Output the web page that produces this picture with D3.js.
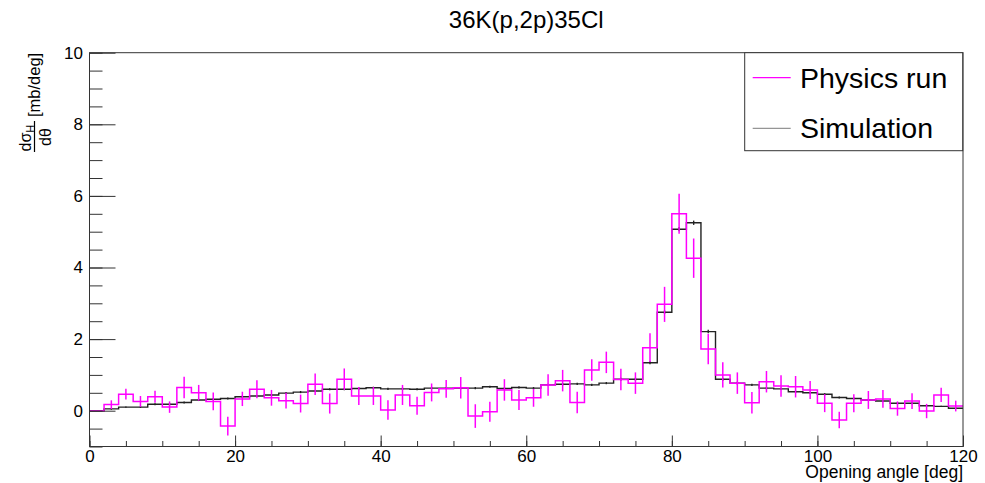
<!DOCTYPE html>
<html>
<head>
<meta charset="utf-8">
<script type="text/javascript" src="https://d3js.org/d3.v7.min.js"></script>
<title>36K(p,2p)35Cl</title>
<style>
body { margin:0; background:#fff; }
svg text { font-family: "Liberation Sans", Arial, Helvetica, sans-serif; fill:#000; }
</style>
</head>
<body>
<div id="chart"></div>
<script type="text/javascript">
(function(){

// bins of 2 deg from 0 to 120
var binLow = d3.range(0, 120, 2);
var binWidth = 2;

var physics = [
  0.00, 0.17, 0.46, 0.26, 0.39, 0.10, 0.65, 0.50, 0.26,-0.43,
  0.33, 0.60, 0.36, 0.28, 0.20, 0.74, 0.20, 0.88, 0.41, 0.41,
  0.02, 0.44, 0.14, 0.51, 0.61, 0.64,-0.15,-0.03, 0.58, 0.30,
  0.36, 0.72, 0.84, 0.23, 1.14, 1.35, 0.87, 0.77, 1.76, 2.97,
  5.50, 4.26, 1.72, 1.00, 0.77, 0.22, 0.81, 0.69, 0.67, 0.58,
  0.21,-0.26, 0.21, 0.30, 0.33, 0.06, 0.27,-0.01, 0.44, 0.13
];
var physicsErr = [
  0.00, 0.12, 0.15, 0.15, 0.17, 0.16, 0.30, 0.22, 0.25, 0.26,
  0.20, 0.25, 0.22, 0.22, 0.25, 0.30, 0.28, 0.30, 0.25, 0.25,
  0.27, 0.28, 0.25, 0.25, 0.25, 0.30, 0.33, 0.28, 0.30, 0.28,
  0.25, 0.30, 0.30, 0.30, 0.30, 0.30, 0.30, 0.30, 0.40, 0.49,
  0.56, 0.55, 0.42, 0.35, 0.30, 0.30, 0.30, 0.30, 0.30, 0.25,
  0.25, 0.23, 0.25, 0.25, 0.25, 0.20, 0.22, 0.20, 0.20, 0.15
];
var simulation = [
  0.00, 0.05, 0.10, 0.10, 0.18, 0.18, 0.23, 0.30, 0.32, 0.34,
  0.39, 0.41, 0.44, 0.49, 0.52, 0.55, 0.60, 0.60, 0.62, 0.64,
  0.61, 0.61, 0.60, 0.63, 0.63, 0.63, 0.63, 0.67, 0.62, 0.65,
  0.63, 0.72, 0.74, 0.75, 0.72, 0.77, 0.88, 0.88, 1.34, 2.75,
  5.07, 5.25, 2.21, 0.88, 0.77, 0.72, 0.63, 0.61, 0.53, 0.50,
  0.46, 0.37, 0.34, 0.30, 0.27, 0.21, 0.21, 0.14, 0.12, 0.07
];
var simulationErr = [
  0.00, 0.02, 0.02, 0.02, 0.03, 0.03, 0.03, 0.03, 0.03, 0.03,
  0.03, 0.03, 0.03, 0.03, 0.03, 0.03, 0.03, 0.03, 0.03, 0.03,
  0.03, 0.03, 0.03, 0.03, 0.03, 0.03, 0.03, 0.03, 0.03, 0.03,
  0.03, 0.03, 0.03, 0.03, 0.03, 0.03, 0.04, 0.04, 0.04, 0.05,
  0.06, 0.06, 0.05, 0.04, 0.04, 0.03, 0.03, 0.03, 0.03, 0.03,
  0.03, 0.03, 0.03, 0.03, 0.03, 0.03, 0.03, 0.02, 0.02, 0.02
];

var xMajor = [0, 20, 40, 60, 80, 100, 120];
var xMinor = d3.range(0, 121, 5);
var yMajor = [0, 2, 4, 6, 8, 10];
var yMinor = d3.range(-1, 10.01, 0.5);
var legendNames = ["Physics run", "Simulation"];
var colors = ["#ff00ff", "#222222"];

var w = 985, h = 483;
var left = 89.5, right = 963, top = 52.7, bottom = 446.5;

var svg = d3.select("#chart").append("svg")
    .attr("width", w).attr("height", h);

var x = d3.scaleLinear().domain([0, 120]).range([left, right]);
var y = d3.scaleLinear().domain([-1, 10]).range([bottom, top]);

// histogram outline as a step path
function stepPath(vals) {
  var pts = [];
  vals.forEach(function(v, i) {
    pts.push([x(binLow[i]), y(v)]);
    pts.push([x(binLow[i] + binWidth), y(v)]);
  });
  return d3.line()(pts);
}

function drawHist(vals, errs, color, sw) {
  var g = svg.append("g");
  g.append("path")
    .attr("d", stepPath(vals))
    .attr("fill", "none")
    .attr("stroke", color)
    .attr("stroke-width", sw);
  g.selectAll("line.err")
    .data(vals)
    .enter().append("line")
      .attr("class", "err")
      .attr("x1", function(d, i) { return x(binLow[i] + binWidth/2); })
      .attr("x2", function(d, i) { return x(binLow[i] + binWidth/2); })
      .attr("y1", function(d, i) { return y(d - errs[i]); })
      .attr("y2", function(d, i) { return y(d + errs[i]); })
      .attr("stroke", color)
      .attr("stroke-width", sw);
}

drawHist(simulation, simulationErr, colors[1], 1.4);
drawHist(physics, physicsErr, colors[0], 1.5);

// axes: ticks drawn inward
svg.append("g").attr("transform", "translate(0," + bottom + ")")
  .call(d3.axisBottom(x).tickValues(xMajor).tickSize(-11).tickPadding(3.5).tickFormat(d3.format("d")));
svg.append("g").attr("transform", "translate(0," + bottom + ")")
  .call(d3.axisBottom(x).tickValues(xMinor).tickSize(-5.5).tickFormat(""));
svg.append("g").attr("transform", "translate(" + left + ",0)")
  .call(d3.axisLeft(y).tickValues(yMajor).tickSize(-26).tickPadding(6.5).tickFormat(d3.format("d")));
svg.append("g").attr("transform", "translate(" + left + ",0)")
  .call(d3.axisLeft(y).tickValues(yMinor).tickSize(-13).tickFormat(""));

svg.selectAll(".domain").remove();
svg.selectAll(".tick line").attr("stroke", "#333").attr("stroke-width", 1);
svg.selectAll(".tick text").style("font-size", "17px").style("font-family", "'Liberation Sans', Arial, sans-serif");

// frame
svg.append("rect")
  .attr("x", left).attr("y", top)
  .attr("width", right - left).attr("height", bottom - top)
  .attr("fill", "none").attr("stroke", "#333").attr("stroke-width", 1);

// title
svg.append("text")
  .attr("x", (left + right) / 2).attr("y", 28)
  .attr("text-anchor", "middle")
  .style("font-size", "24px")
  .text("36K(p,2p)35Cl");

// x axis title
svg.append("text")
  .attr("x", right).attr("y", 478)
  .attr("text-anchor", "end")
  .style("font-size", "17.5px")
  .text("Opening angle [deg]");

// y axis title: d sigma_H / d theta [mb/deg], rotated
var yt = svg.append("g").attr("transform", "translate(34.5,152) rotate(-90)");
yt.append("line")
  .attr("x1", 0).attr("x2", 31).attr("y1", 0).attr("y2", 0)
  .attr("stroke", "#000").attr("stroke-width", 1.2);
var num = yt.append("text").attr("x", 0.5).attr("y", -4).style("font-size", "16px");
num.append("tspan").text("dσ");
num.append("tspan").attr("dy", 3).style("font-size", "11px").text("H");
yt.append("text").attr("x", 15).attr("y", 16)
  .attr("text-anchor", "middle").style("font-size", "16px").text("dθ");
yt.append("text").attr("x", 35).attr("y", 5.5)
  .style("font-size", "16.5px").text("[mb/deg]");

// legend
var lg = svg.append("g");
lg.append("rect")
  .attr("x", 744.7).attr("y", 52.7)
  .attr("width", 218).attr("height", 98)
  .attr("fill", "#fff").attr("stroke", "#333").attr("stroke-width", 1);
var items = lg.selectAll("g.item")
  .data(legendNames)
  .enter().append("g")
    .attr("class", "item")
    .attr("transform", function(d, i) { return "translate(0," + (77.7 + i * 50.6) + ")"; });
items.append("line")
  .attr("x1", 752.7).attr("x2", 790.7)
  .attr("stroke", function(d, i) { return colors[i]; })
  .attr("stroke-width", function(d, i) { return i === 0 ? 1.2 : 1; })
  .attr("stroke-opacity", function(d, i) { return i === 0 ? 1 : 0.6; });
items.append("text")
  .attr("x", 800).attr("y", 10)
  .style("font-size", "28.5px")
  .text(function(d) { return d; });

})();
</script>
</body>
</html>
